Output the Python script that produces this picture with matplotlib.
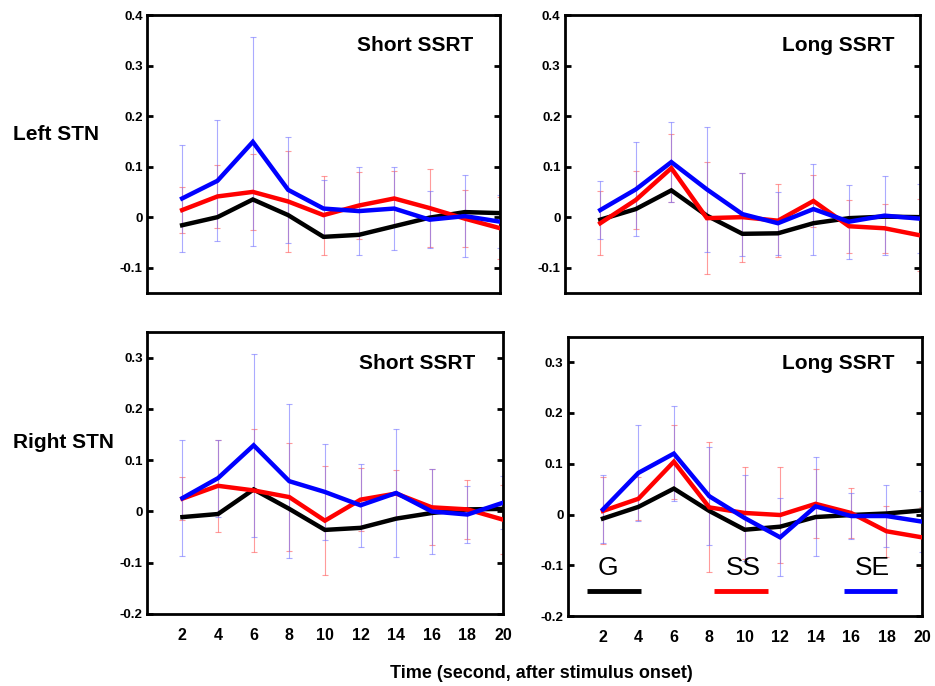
import matplotlib
matplotlib.use("Agg")
import matplotlib.pyplot as plt
import numpy as np

plt.rcParams['font.family'] = ['Liberation Sans', 'DejaVu Sans']

times = [2, 4, 6, 8, 10, 12, 14, 16, 18, 20]
xtick_labels = ['2', '4', '6', '8', '10', '12', '14', '16', '18', '20']

# Left STN, Short SSRT
ls_G = [-0.016, 0.0, 0.035, 0.004, -0.039, -0.035, -0.018, -0.001, 0.010, 0.008]
ls_SS = [0.014, 0.041, 0.050, 0.031, 0.004, 0.023, 0.037, 0.018, -0.003, -0.022]
ls_SE = [0.037, 0.072, 0.149, 0.054, 0.017, 0.012, 0.017, -0.005, 0.002, -0.009]
ls_SS_err = [0.046, 0.062, 0.076, 0.100, 0.078, 0.066, 0.055, 0.077, 0.057, 0.061]
ls_SE_err = [0.105, 0.120, 0.207, 0.105, 0.057, 0.087, 0.083, 0.057, 0.081, 0.053]

# Left STN, Long SSRT
ll_G = [-0.005, 0.016, 0.053, 0.003, -0.033, -0.032, -0.012, -0.002, 0.001, 0.0]
ll_SS = [-0.012, 0.034, 0.097, -0.002, 0.0, -0.007, 0.032, -0.018, -0.022, -0.036]
ll_SE = [0.014, 0.055, 0.109, 0.055, 0.006, -0.012, 0.016, -0.009, 0.003, -0.003]
ll_SS_err = [0.063, 0.058, 0.067, 0.111, 0.088, 0.072, 0.052, 0.052, 0.049, 0.071]
ll_SE_err = [0.057, 0.093, 0.079, 0.124, 0.082, 0.062, 0.090, 0.073, 0.078, 0.068]

# Right STN, Short SSRT
rs_G = [-0.011, -0.005, 0.043, 0.005, -0.036, -0.032, -0.014, -0.003, 0.004, 0.005]
rs_SS = [0.025, 0.050, 0.041, 0.028, -0.018, 0.023, 0.035, 0.008, 0.004, -0.016]
rs_SE = [0.026, 0.065, 0.129, 0.059, 0.038, 0.012, 0.036, 0.0, -0.006, 0.017]
rs_SS_err = [0.042, 0.090, 0.120, 0.106, 0.106, 0.061, 0.045, 0.074, 0.058, 0.067]
rs_SE_err = [0.113, 0.075, 0.179, 0.150, 0.093, 0.081, 0.124, 0.083, 0.055, 0.052]

# Right STN, Long SSRT
rl_G = [-0.008, 0.015, 0.051, 0.007, -0.030, -0.024, -0.005, -0.001, 0.002, 0.008]
rl_SS = [0.007, 0.031, 0.104, 0.014, 0.003, -0.001, 0.021, 0.003, -0.033, -0.045]
rl_SE = [0.010, 0.082, 0.120, 0.036, -0.007, -0.045, 0.016, -0.003, -0.003, -0.014]
rl_SS_err = [0.066, 0.042, 0.073, 0.128, 0.091, 0.094, 0.068, 0.049, 0.050, 0.060]
rl_SE_err = [0.067, 0.095, 0.093, 0.097, 0.084, 0.077, 0.097, 0.045, 0.061, 0.060]

series_names = ['G', 'SS', 'SE']
series_colors = ['#000000', '#ff0000', '#0000ff']
err_colors = [None, (1.0, 0.35, 0.35, 0.6), (0.45, 0.45, 1.0, 0.6)]

panels = [
    dict(rect=[0.157, 0.573, 0.378, 0.405], ylim=(-0.15, 0.4),
         yticks=[-0.1, 0, 0.1, 0.2, 0.3, 0.4], ylabels=['-0.1', '0', '0.1', '0.2', '0.3', '0.4'],
         data=[ls_G, ls_SS, ls_SE], errs=[None, ls_SS_err, ls_SE_err],
         title='Short SSRT', tpos=(0.76, 0.89), bottom=False, legend=False),
    dict(rect=[0.604, 0.573, 0.380, 0.405], ylim=(-0.15, 0.4),
         yticks=[-0.1, 0, 0.1, 0.2, 0.3, 0.4], ylabels=['-0.1', '0', '0.1', '0.2', '0.3', '0.4'],
         data=[ll_G, ll_SS, ll_SE], errs=[None, ll_SS_err, ll_SE_err],
         title='Long SSRT', tpos=(0.77, 0.89), bottom=False, legend=False),
    dict(rect=[0.157, 0.105, 0.381, 0.411], ylim=(-0.2, 0.35),
         yticks=[-0.2, -0.1, 0, 0.1, 0.2, 0.3], ylabels=['-0.2', '-0.1', '0', '0.1', '0.2', '0.3'],
         data=[rs_G, rs_SS, rs_SE], errs=[None, rs_SS_err, rs_SE_err],
         title='Short SSRT', tpos=(0.76, 0.89), bottom=True, legend=False),
    dict(rect=[0.607, 0.102, 0.379, 0.407], ylim=(-0.2, 0.35),
         yticks=[-0.2, -0.1, 0, 0.1, 0.2, 0.3], ylabels=['-0.2', '-0.1', '0', '0.1', '0.2', '0.3'],
         data=[rl_G, rl_SS, rl_SE], errs=[None, rl_SS_err, rl_SE_err],
         title='Long SSRT', tpos=(0.763, 0.905), bottom=True, legend=True),
]

# legend layout (data coords of bottom-right panel)
leg_x0 = [1.07, 8.25, 15.6]
leg_x1 = [4.12, 11.3, 18.6]
leg_y = -0.151
leg_text_x = [2.26, 9.94, 17.2]
leg_text_y = -0.106

fig = plt.figure(figsize=(9.35, 6.86), dpi=100)

for p in panels:
    ax = fig.add_axes(p['rect'])
    for k in range(3):
        if p['errs'][k] is not None:
            ax.errorbar(times, p['data'][k], yerr=p['errs'][k], fmt='none',
                        ecolor=err_colors[k], elinewidth=0.8, capsize=2.5,
                        capthick=0.8, zorder=1)
    for k in range(3):
        ax.plot(times, p['data'][k], color=series_colors[k], lw=3.2,
                solid_joinstyle='miter', zorder=3 + k)
    ax.set_xlim(0, 20)
    ax.set_ylim(*p['ylim'])
    ax.set_yticks(p['yticks'])
    ax.set_yticklabels(p['ylabels'], fontsize=9.5, fontweight='bold')
    ax.set_xticks(times)
    if p['bottom']:
        ax.set_xticklabels(xtick_labels, fontsize=11.5, fontweight='bold')
    else:
        ax.set_xticklabels([])
    ax.set_xticks([4, 8, 12, 16], minor=True)
    ax.tick_params(axis='x', which='major', length=0, pad=10)
    ax.tick_params(axis='x', which='minor', direction='in', length=4, width=2,
                   top=True, bottom=True)
    ax.tick_params(axis='y', which='major', direction='in', length=4, width=2,
                   left=True, right=True, pad=3)
    for s in ax.spines.values():
        s.set_linewidth(2.0)
    ax.text(p['tpos'][0], p['tpos'][1], p['title'], transform=ax.transAxes,
            ha='center', va='center', fontsize=15, fontweight='bold',
            zorder=10)
    if p['legend']:
        for k in range(3):
            ax.plot([leg_x0[k], leg_x1[k]], [leg_y, leg_y], color=series_colors[k],
                    lw=3.5, solid_capstyle='butt', zorder=6)
            ax.text(leg_text_x[k], leg_text_y, series_names[k], ha='center',
                    va='center', fontsize=19, zorder=6)

fig.text(13 / 935, 1 - 135 / 686, 'Left STN', ha='left', va='center',
         fontsize=15, fontweight='bold')
fig.text(13 / 935, 1 - 442 / 686, 'Right STN', ha='left', va='center',
         fontsize=15, fontweight='bold')
fig.text(541 / 935, 1 - 673 / 686, 'Time (second, after stimulus onset)',
         ha='center', va='center', fontsize=13, fontweight='bold')

fig.savefig('out.png', dpi=100)
